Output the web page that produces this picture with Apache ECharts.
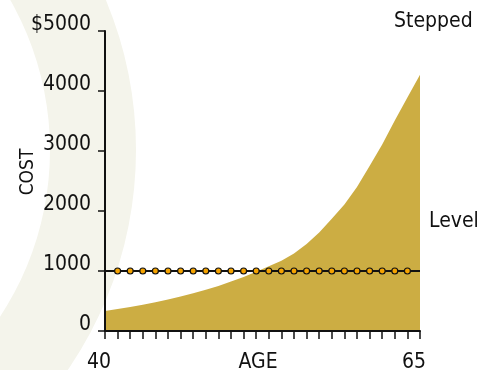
<!DOCTYPE html>
<html>
<head>
<meta charset="utf-8">
<script src="https://cdn.jsdelivr.net/npm/echarts@6/dist/echarts.min.js"></script>
<style>
  html, body { margin: 0; padding: 0; background: #ffffff; }
  #chart { width: 480px; height: 370px; }
</style>
</head>
<body>
<div id="chart"></div>
<script>
// Age of the policy holder (years)
const ages = [40, 41, 42, 43, 44, 45, 46, 47, 48, 49, 50, 51, 52, 53, 54, 55, 56, 57, 58, 59, 60, 61, 62, 63, 64, 65];
// Yearly premium under a stepped plan ($)
const steppedCost = [333, 365, 399, 437, 478, 524, 573, 628, 687, 752, 823, 902, 987, 1080, 1170, 1290, 1450, 1640, 1870, 2110, 2400, 2750, 3110, 3510, 3890, 4270];
// Yearly premium under a level plan ($)
const levelCost = [1000, 1000, 1000, 1000, 1000, 1000, 1000, 1000, 1000, 1000, 1000, 1000, 1000, 1000, 1000, 1000, 1000, 1000, 1000, 1000, 1000, 1000, 1000, 1000, 1000, 1000];
// Axis labels
const ageLabels = [40, 65];
const costTicks = [0, 1000, 2000, 3000, 4000, 5000];

const FONT = '"DejaVu Sans Condensed", "Liberation Sans", Arial, sans-serif';
const INK = '#111111';

const chart = echarts.init(document.getElementById('chart'), null, { renderer: 'canvas' });

const firstAge = ages[0];
const lastAge = ages[ages.length - 1];

chart.setOption({
  animation: false,
  backgroundColor: '#ffffff',
  graphic: [{
    // pale decorative arc behind the plot
    type: 'ring',
    z: -10,
    silent: true,
    shape: { cx: -253, cy: 150, r: 389, r0: 303 },
    style: { fill: '#f4f4eb' }
  }],
  grid: { left: 105, right: 60, top: 31, bottom: 39, containLabel: false, outerBoundsMode: 'none' },
  xAxis: {
    type: 'value',
    min: firstAge,
    max: lastAge,
    interval: 1,
    z: 5,
    name: 'AGE',
    nameLocation: 'middle',
    nameGap: 21,
    nameMoveOverlap: false,
    nameTextStyle: { fontFamily: FONT, fontSize: 21, color: INK, lineHeight: 21, verticalAlign: 'top', padding: [0, 9, 0, 0] },
    axisLine: { show: true, lineStyle: { color: INK, width: 2 } },
    axisTick: { show: true, length: 8, lineStyle: { color: INK, width: 1.5 } },
    axisLabel: {
      margin: 21,
      fontFamily: FONT, fontSize: 21, color: INK, lineHeight: 21,
      padding: [0, 12, 0, 0],
      formatter: v => (ageLabels.indexOf(v) >= 0 ? String(v) : '')
    },
    splitLine: { show: false }
  },
  yAxis: {
    type: 'value',
    min: costTicks[0],
    max: costTicks[costTicks.length - 1],
    interval: 1000,
    z: 5,
    name: 'COST',
    nameLocation: 'middle',
    nameRotate: 90,
    nameGap: 67,
    nameMoveOverlap: false,
    nameTextStyle: { fontFamily: FONT, fontSize: 19, color: INK, lineHeight: 19, padding: [0, 0, 0, 18] },
    axisLine: { show: true, lineStyle: { color: INK, width: 2 } },
    axisTick: { show: true, length: 7, lineStyle: { color: INK, width: 1.5 } },
    axisLabel: {
      margin: 14,
      fontFamily: FONT, fontSize: 21, color: INK, lineHeight: 13,
      verticalAlign: 'bottom',
      formatter: v => (v === costTicks[costTicks.length - 1] ? '$' + v : String(v))
    },
    splitLine: { show: false }
  },
  series: [
    {
      name: 'Stepped',
      type: 'line',
      z: 2,
      data: ages.map((a, i) => [a, steppedCost[i]]),
      showSymbol: false,
      symbol: 'none',
      lineStyle: { width: 0 },
      areaStyle: { color: '#ccad43', opacity: 1 },
      endLabel: {
        show: true,
        formatter: 'Stepped',
        fontFamily: FONT, fontSize: 21, color: INK,
        offset: [-34, -53]
      }
    },
    {
      name: 'Level',
      type: 'line',
      z: 3,
      data: ages.map((a, i) => [a, levelCost[i]]),
      showSymbol: true,
      showAllSymbol: true,
      symbol: (value) => (value[0] === firstAge || value[0] === lastAge ? 'none' : 'circle'),
      symbolSize: 6,
      itemStyle: { color: '#f5a300', borderColor: INK, borderWidth: 1.2 },
      lineStyle: { color: INK, width: 2 },
      endLabel: {
        show: true,
        formatter: 'Level',
        fontFamily: FONT, fontSize: 21, color: INK,
        offset: [1, -49]
      }
    }
  ]
});
</script>
</body>
</html>
